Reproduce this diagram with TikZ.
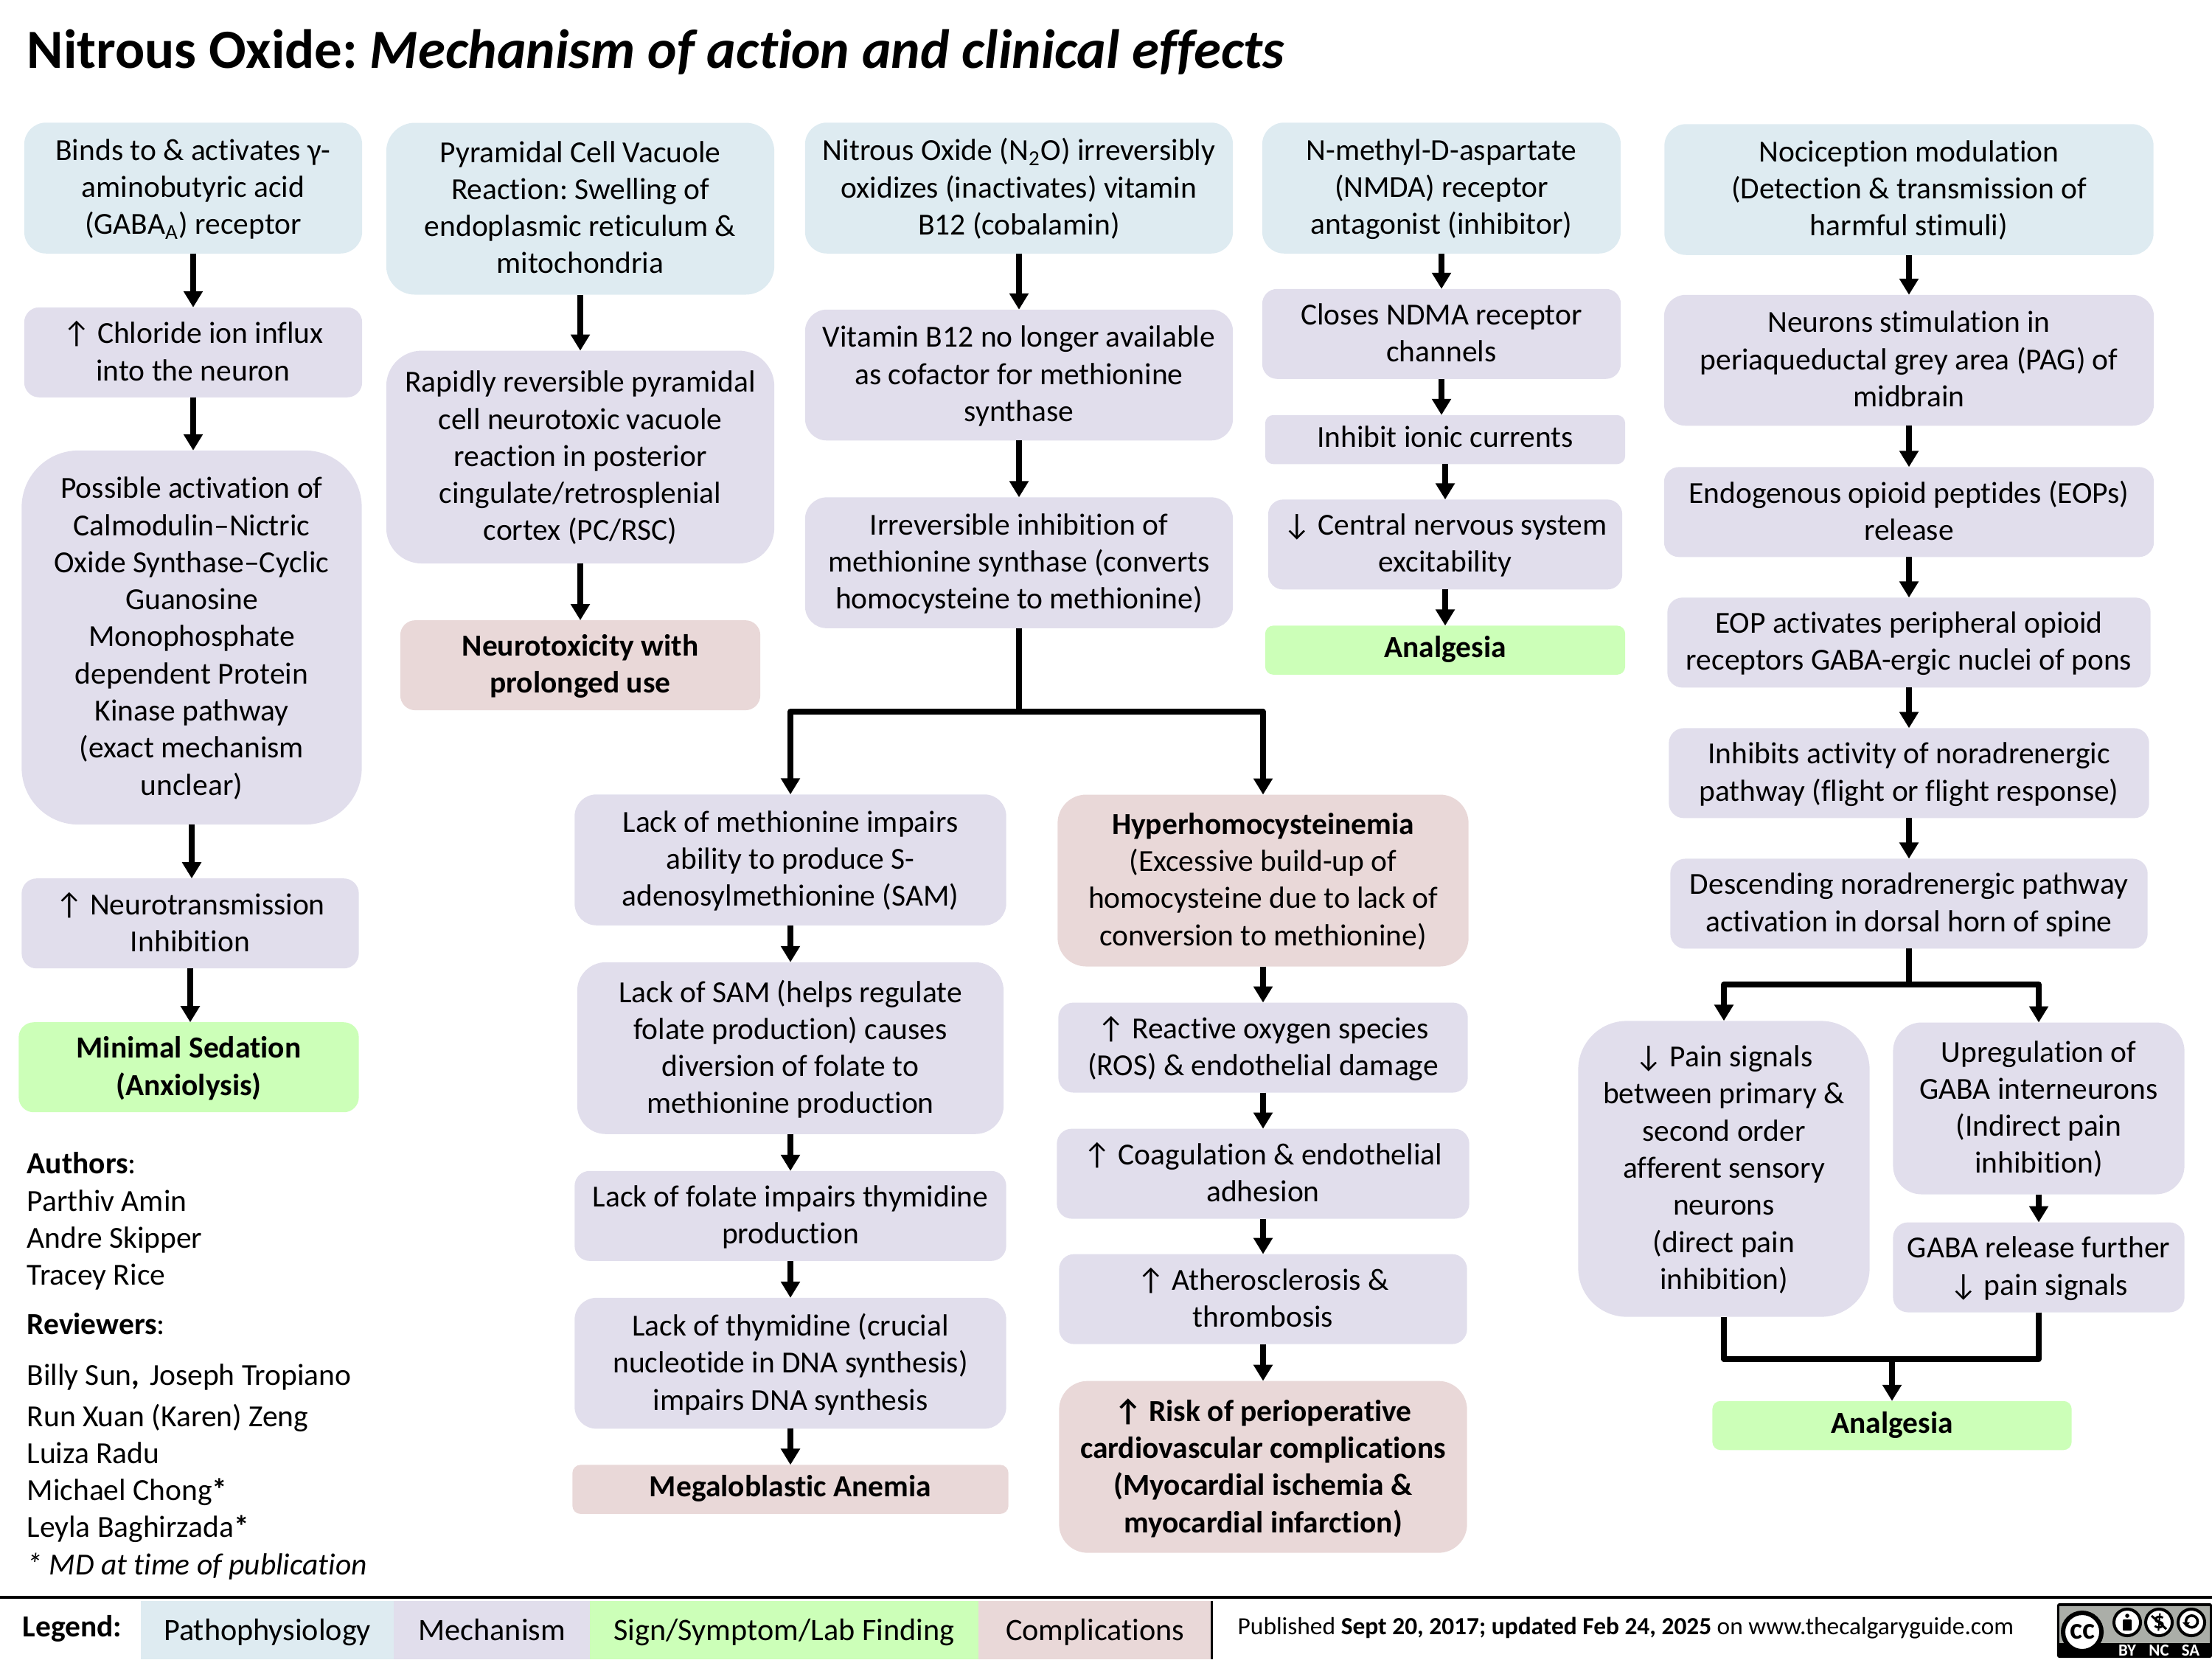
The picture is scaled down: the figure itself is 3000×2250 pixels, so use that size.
\documentclass[tikz,border=0pt]{standalone}
\usepackage{fontspec}
\setmainfont{Carlito}[Ligatures=NoCommon]
\usetikzlibrary{positioning, arrows.meta}
\definecolor{colour_patho}{HTML}{DEEBF1}
\definecolor{colour_mech}{HTML}{E1DEEC}
\definecolor{colour_sign}{HTML}{CCFFB8}
\definecolor{colour_comp}{HTML}{E9D8D8}
\definecolor{colour_badge}{HTML}{ABAEA8}

\begin{document}
\frenchspacing
\begin{tikzpicture}[
    x=0.01cm, y=-0.01cm,
    font=\fontsize{11.8}{14.3}\selectfont,
    box/.style={rectangle, inner sep=0pt, outer sep=0pt, align=center,
                execute at begin node={\strut}, execute at end node={\strut}},
    rows/.code={\pgfkeysalso{minimum height={(55.5*#1+11)*0.01cm}, rounded corners={(55.5*#1+11)*0.00167cm}}%
                \ifnum#1>1 \pgfkeysalso{text depth=1.1pt}\fi},
    patho/.style={box, fill=colour_patho},
    mech/.style={box, fill=colour_mech},
    sign/.style={box, fill=colour_sign, font=\fontsize{11.8}{14.3}\selectfont\bfseries},
    comp/.style={box, fill=colour_comp},
    arrow/.style={-{Triangle[length=0.22cm, width=0.25cm]}, line width=0.08cm, line join=round},
    plain/.style={inner sep=0pt, align=left, anchor=north west},
    legend/.style={box, minimum height=0.79cm, anchor=north west, font=\fontsize{12}{14.3}\selectfont,
                   execute at begin node={\rule{0pt}{12.4pt}}},
    ring/.style={circle, draw=black, fill=white, inner sep=0pt, outer sep=0pt, line width=0.04cm},
    badgetext/.style={inner sep=0pt, text=white, font=\fontsize{6.5}{7}\selectfont\bfseries}
]
\useasboundingbox (0,0) rectangle (3000,2250);

% Title
\node[inner sep=0pt, anchor=west, font=\fontsize{21.3}{25}\selectfont\bfseries] (title) at (36,71)
     {Nitrous Oxide: \textit{Mechanism of action and clinical effects}};

% GABA column
\node[patho, rows=3, minimum width=4.58cm] (gaba) at (262,255)
     {Binds to \& activates γ-\\aminobutyric acid\\(GABA\textsubscript{A}) receptor};
\node[mech, rows=2, minimum width=4.58cm, below=0.73cm of gaba] (chloride)
     {↑ Chloride ion influx\\into the neuron};
\node[mech, minimum width=4.61cm, minimum height=5.07cm, rounded corners=0.77cm, below=0.72cm of chloride, xshift=-0.02cm,
      text depth=1.1pt] (calmodulin)
     {Possible activation of\\Calmodulin–Nictric\\Oxide Synthase–Cyclic\\Guanosine\\Monophosphate\\dependent Protein\\Kinase pathway\\(exact mechanism\\unclear)};
\node[mech, rows=2, minimum width=4.57cm, below=0.73cm of calmodulin, xshift=-0.02cm] (neurotrans)
     {↑ Neurotransmission\\Inhibition};
\node[sign, rows=2, minimum width=4.61cm, below=0.73cm of neurotrans, xshift=-0.02cm] (sedation)
     {Minimal Sedation\\(Anxiolysis)};

% Authors
\node[plain] (authors) at (36,1562)
     {\textbf{Authors}:\\Parthiv Amin\\Andre Skipper\\Tracey Rice};
\node[plain] (reviewers) at (36,1780) {\textbf{Reviewers}:};
\node[plain] (names) at (36,1849)
     {Billy Sun{\bfseries,}\,\,Joseph Tropiano\\[1.5pt]Run Xuan (Karen) Zeng\\Luiza Radu\\Michael Chong{\bfseries*}\\Leyla Baghirzada{\bfseries*}\\\textit{* MD at time of publication}};

% Vacuole column
\node[patho, rows=4, minimum width=5.26cm] (vacuole) at (787,283)
     {Pyramidal Cell Vacuole\\Reaction: Swelling of\\endoplasmic reticulum \&\\mitochondria};
\node[mech, rows=5, minimum width=5.26cm, below=0.76cm of vacuole] (reversible)
     {Rapidly reversible pyramidal\\cell neurotoxic vacuole\\reaction in posterior\\cingulate/retrosplenial\\cortex (PC/RSC)};
\node[comp, rows=2, minimum width=4.88cm, below=0.77cm of reversible, font=\fontsize{11.8}{14.3}\selectfont\bfseries] (neurotox)
     {Neurotoxicity with\\prolonged use};

% B12 column
\node[patho, rows=3, minimum width=5.80cm] (oxidizes) at (1382,255)
     {Nitrous Oxide (N\textsubscript{2}O) irreversibly\\oxidizes (inactivates) vitamin\\B12 (cobalamin)};
\node[mech, rows=3, minimum width=5.80cm, below=0.76cm of oxidizes] (cofactor)
     {Vitamin B12 no longer available\\as cofactor for methionine\\synthase};
\node[mech, rows=3, minimum width=5.80cm, below=0.77cm of cofactor] (synthase)
     {Irreversible inhibition of\\methionine synthase (converts\\homocysteine to methionine)};
\coordinate (split) at (1382,965);

% Anemia branch
\node[mech, rows=3, minimum width=5.85cm] (sam) at (1072,1166)
     {Lack of methionine impairs\\ability to produce S-\\adenosylmethionine (SAM)};
\node[mech, rows=4, minimum width=5.78cm, below=0.50cm of sam] (folate)
     {Lack of SAM (helps regulate\\folate production) causes\\diversion of folate to\\methionine production};
\node[mech, rows=2, minimum width=5.85cm, below=0.50cm of folate] (thymidine)
     {Lack of folate impairs thymidine\\production};
\node[mech, rows=3, minimum width=5.85cm, below=0.50cm of thymidine] (dna)
     {Lack of thymidine (crucial\\nucleotide in DNA synthesis)\\impairs DNA synthesis};
\node[comp, rows=1, minimum width=5.91cm, below=0.49cm of dna, font=\fontsize{11.8}{14.3}\selectfont\bfseries] (anemia)
     {Megaloblastic Anemia};

% Homocysteine branch
\node[comp, rows=4, minimum width=5.57cm] (hyper) at (1713,1194)
     {\textbf{Hyperhomocysteinemia}\\(Excessive build-up of\\homocysteine due to lack of\\conversion to methionine)};
\node[mech, rows=2, minimum width=5.55cm, below=0.49cm of hyper] (ros)
     {↑ Reactive oxygen species\\(ROS) \& endothelial damage};
\node[mech, rows=2, minimum width=5.59cm, below=0.49cm of ros] (coag)
     {↑ Coagulation \& endothelial\\adhesion};
\node[mech, rows=2, minimum width=5.53cm, below=0.48cm of coag] (athero)
     {↑ Atherosclerosis \&\\thrombosis};
\node[comp, rows=4, minimum width=5.53cm, below=0.50cm of athero, font=\fontsize{11.8}{14.3}\selectfont\bfseries] (risk)
     {↑ Risk of perioperative\\cardiovascular complications\\(Myocardial ischemia \&\\myocardial infarction)};

% NMDA column
\node[patho, rows=3, minimum width=4.86cm] (nmda) at (1955,255)
     {N-methyl-D-aspartate\\(NMDA) receptor\\antagonist (inhibitor)};
\node[mech, rows=2, minimum width=4.86cm, below=0.48cm of nmda] (closes)
     {Closes NDMA receptor\\channels};
\node[mech, rows=1, minimum width=4.88cm, below=0.49cm of closes, xshift=0.05cm] (ionic)
     {Inhibit ionic currents};
\node[mech, rows=2, minimum width=4.80cm, below=0.48cm of ionic] (cns)
     {↓ Central nervous system\\excitability};
\node[sign, rows=1, minimum width=4.88cm, below=0.49cm of cns] (analgesia_a)
     {Analgesia};

% Nociception column
\node[patho, rows=3, minimum width=6.63cm] (nocicep) at (2589,257)
     {Nociception modulation\\(Detection \& transmission of\\harmful stimuli)};
\node[mech, rows=3, minimum width=6.64cm, below=0.54cm of nocicep] (pag)
     {Neurons stimulation in\\periaqueductal grey area (PAG) of\\midbrain};
\node[mech, rows=2, minimum width=6.64cm, below=0.56cm of pag] (eop)
     {Endogenous opioid peptides (EOPs)\\release};
\node[mech, rows=2, minimum width=6.55cm, below=0.55cm of eop] (peripheral)
     {EOP activates peripheral opioid\\receptors GABA-ergic nuclei of pons};
\node[mech, rows=2, minimum width=6.51cm, below=0.55cm of peripheral] (noradren)
     {Inhibits activity of noradrenergic\\pathway (flight or flight response)};
\node[mech, rows=2, minimum width=6.47cm, below=0.55cm of noradren] (descend)
     {Descending noradrenergic pathway\\activation in dorsal horn of spine};
\coordinate (fork) at (2589,1335);

% Pain branches
\node[mech, minimum width=3.95cm, minimum height=4.01cm, rounded corners=0.66cm,
      text depth=1.1pt] (painsig) at (2338,1585)
     {↓ Pain signals\\between primary \&\\second order\\afferent sensory\\neurons\\(direct pain\\inhibition)};
\node[mech, rows=4, minimum width=3.95cm] (upreg) at (2765,1503)
     {Upregulation of\\GABA interneurons\\(Indirect pain\\inhibition)};
\node[mech, rows=2, minimum width=3.95cm, below=0.38cm of upreg] (release)
     {GABA release further\\↓ pain signals};
\coordinate (join) at (2566,1843);
\node[sign, rows=1, minimum width=4.87cm] (analgesia_b) at (2566,1933) {Analgesia};

% Arrows
\foreach \from/\to in {gaba/chloride, chloride/calmodulin, calmodulin/neurotrans, neurotrans/sedation,
    vacuole/reversible, reversible/neurotox, oxidizes/cofactor, cofactor/synthase,
    sam/folate, folate/thymidine, thymidine/dna, dna/anemia,
    hyper/ros, ros/coag, coag/athero, athero/risk,
    nmda/closes, closes/ionic, ionic/cns, cns/analgesia_a,
    nocicep/pag, pag/eop, eop/peripheral, peripheral/noradren, noradren/descend, upreg/release}
    \draw[arrow] (\from.south) -- (\from.south |- \to.north);
\draw[arrow, -] (synthase.south) -- (split);
\draw[arrow] (split) -| (sam.north);
\draw[arrow] (split) -| (hyper.north);
\draw[arrow, -] (descend.south) -- (fork);
\draw[arrow] (fork) -| (painsig.north);
\draw[arrow] (fork) -| (upreg.north);
\draw[arrow, -] (painsig.south) |- (join);
\draw[arrow, -] (release.south) |- (join);
\draw[arrow] (join) -- (analgesia_b.north);

% Legend
\draw[line width=0.045cm] (0,2166) -- (3000,2166);
\node[inner sep=0pt, anchor=west, font=\fontsize{11.8}{14.3}\selectfont\bfseries] (legendlabel) at (30,2208) {Legend:};
\node[legend, fill=colour_patho, minimum width=3.43cm] (legpatho) at (191,2171) {Pathophysiology};
\node[legend, fill=colour_mech, minimum width=2.66cm, right=0pt of legpatho] (legmech) {Mechanism};
\node[legend, fill=colour_sign, minimum width=5.26cm, right=0pt of legmech] (legsign) {Sign/Symptom/Lab Finding};
\node[legend, fill=colour_comp, minimum width=3.17cm, right=0pt of legsign] (legcomp) {Complications};
\draw[line width=0.03cm] (legcomp.north east) -- (legcomp.south east);
\node[inner sep=0pt, anchor=west, font=\fontsize{9.5}{12}\selectfont] (published) at (1678,2208)
     {Published \textbf{Sept 20, 2017; updated Feb 24, 2025} on www.thecalgaryguide.com};

% Licence badge
\node[fill=black, rounded corners=0.03cm, minimum width=2.10cm, minimum height=0.74cm, inner sep=0pt, outer sep=0pt] (badge) at (2895,2211) {};
\node[fill=colour_badge, minimum width=2.03cm, minimum height=0.50cm, inner sep=0pt, outer sep=0pt, anchor=north] (badgetop) at (2895,2178) {};
\node[ring, minimum size=0.52cm, line width=0.06cm, font=\fontsize{11.5}{12}\selectfont\bfseries] (cc) at (2824,2213) {cc};
\node[ring, minimum size=0.36cm] (by) at (2885,2200) {};
\node[ring, minimum size=0.36cm, font=\fontsize{9}{10}\selectfont\bfseries] (nc) at (2928,2200) {\$};
\node[ring, minimum size=0.36cm] (sa) at (2972,2200) {};
\fill (2885,2191) circle (2.8);
\fill[rounded corners=0.01cm] (2879,2196) rectangle (2891,2211);
\draw[line width=0.03cm] (2918,2191) -- (2938,2209);
\draw[line width=0.035cm] (2965,2196) arc (200:-160:8);
\fill (2960,2200) -- (2970,2200) -- (2965,2206) -- cycle;
\node[badgetext] (bylabel) at (2885,2238) {BY};
\node[badgetext] (nclabel) at (2928,2238) {NC};
\node[badgetext] (salabel) at (2971,2238) {SA};

\end{tikzpicture}
\end{document}
